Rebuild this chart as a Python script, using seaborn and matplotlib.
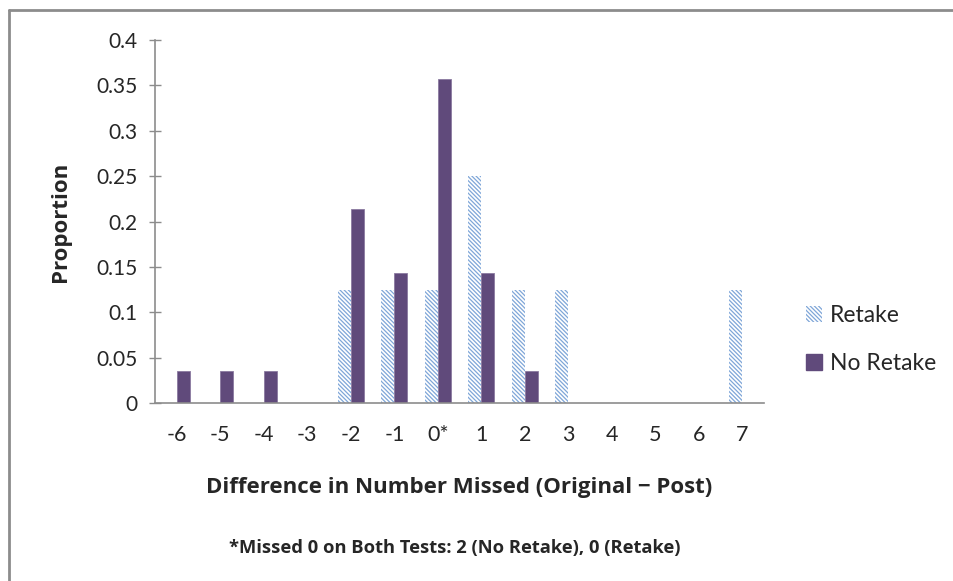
import matplotlib
matplotlib.use("Agg")
import matplotlib.pyplot as plt
import seaborn as sns
import pandas as pd
from matplotlib.lines import Line2D
from matplotlib.patches import Patch

categories = ["-6", "-5", "-4", "-3", "-2", "-1", "0*", "1", "2", "3", "4", "5", "6", "7"]
retake = [0, 0, 0, 0, 0.125, 0.125, 0.125, 0.25, 0.125, 0.125, 0, 0, 0, 0.125]
no_retake = [0.0357, 0.0357, 0.0357, 0, 0.2143, 0.1429, 0.3571, 0.1429, 0.0357, 0, 0, 0, 0, 0]
series = ["Retake", "No Retake"]
yticks = [0, 0.05, 0.1, 0.15, 0.2, 0.25, 0.3, 0.35, 0.4]
ytick_labels = ["0", "0.05", "0.1", "0.15", "0.2", "0.25", "0.3", "0.35", "0.4"]

df = pd.DataFrame({
    "cat": categories * 2,
    "val": retake + no_retake,
    "series": [series[0]] * len(categories) + [series[1]] * len(categories),
})

sns.set_theme(style="white")
plt.rcParams["font.family"] = ["Lato", "DejaVu Sans"]
plt.rcParams["hatch.linewidth"] = 0.9

fig = plt.figure(figsize=(9.54, 5.81), dpi=100)
ax = fig.add_axes([0.1625, 0.3064, 0.6385, 0.6246])

purple = "#604a7b"
hatch_col = "#7fa6d8"
hatch = "\\" * 8
sns.barplot(data=df, x="cat", y="val", hue="series", order=categories,
            hue_order=series, palette=["white", purple], width=0.6,
            ax=ax, legend=False, saturation=1)

for bar in ax.containers[0]:
    bar.set_facecolor("white")
    bar.set_edgecolor(hatch_col)
    bar.set_hatch(hatch)
    bar.set_linewidth(0)
for bar in ax.containers[1]:
    bar.set_facecolor(purple)
    bar.set_edgecolor("#8a7aa0")
    bar.set_linewidth(0.6)

ax.set_xlim(-0.5, len(categories) - 0.5)
ax.set_ylim(0, 0.4)
ax.set_yticks(yticks)
ax.set_yticklabels(ytick_labels)
for s in ["top", "right"]:
    ax.spines[s].set_visible(False)
for s in ["left", "bottom"]:
    ax.spines[s].set_color("#8c8c8c")
    ax.spines[s].set_linewidth(1.2)
ax.tick_params(axis="y", direction="inout", length=9, width=1, color="#8c8c8c",
               labelsize=15, pad=8, left=True)
ax.tick_params(axis="x", length=0, labelsize=15.5, pad=16)
bold = dict(family=["Open Sans", "DejaVu Sans"], fontweight="bold")
ax.set_xlabel("Difference in Number Missed (Original \u2212 Post)", fontsize=16,
              labelpad=23, **bold)
ax.set_ylabel("Proportion", fontsize=16, labelpad=18, **bold)

handles = [Patch(facecolor="white", edgecolor=hatch_col, hatch=hatch, linewidth=0),
           Patch(facecolor=purple, edgecolor=purple)]
fig.legend(handles, series, loc="upper left", bbox_to_anchor=(0.823, 0.51),
           frameon=False, fontsize=16.5, handlelength=0.7, handleheight=0.7,
           handletextpad=0.35, labelspacing=1.15)

fig.text(0.477, 0.057, "*Missed 0 on Both Tests: 2 (No Retake), 0 (Retake)",
         ha="center", va="center", fontsize=13.2, **bold)

# outer chart border (top and left edges visible)
fig.add_artist(Line2D([0.0094, 1.0], [0.983, 0.983], transform=fig.transFigure,
                      color="#8c8c8c", linewidth=2))
fig.add_artist(Line2D([0.0094, 0.0094], [0.0, 0.983], transform=fig.transFigure,
                      color="#8c8c8c", linewidth=2))

fig.savefig("out.png", dpi=100)
